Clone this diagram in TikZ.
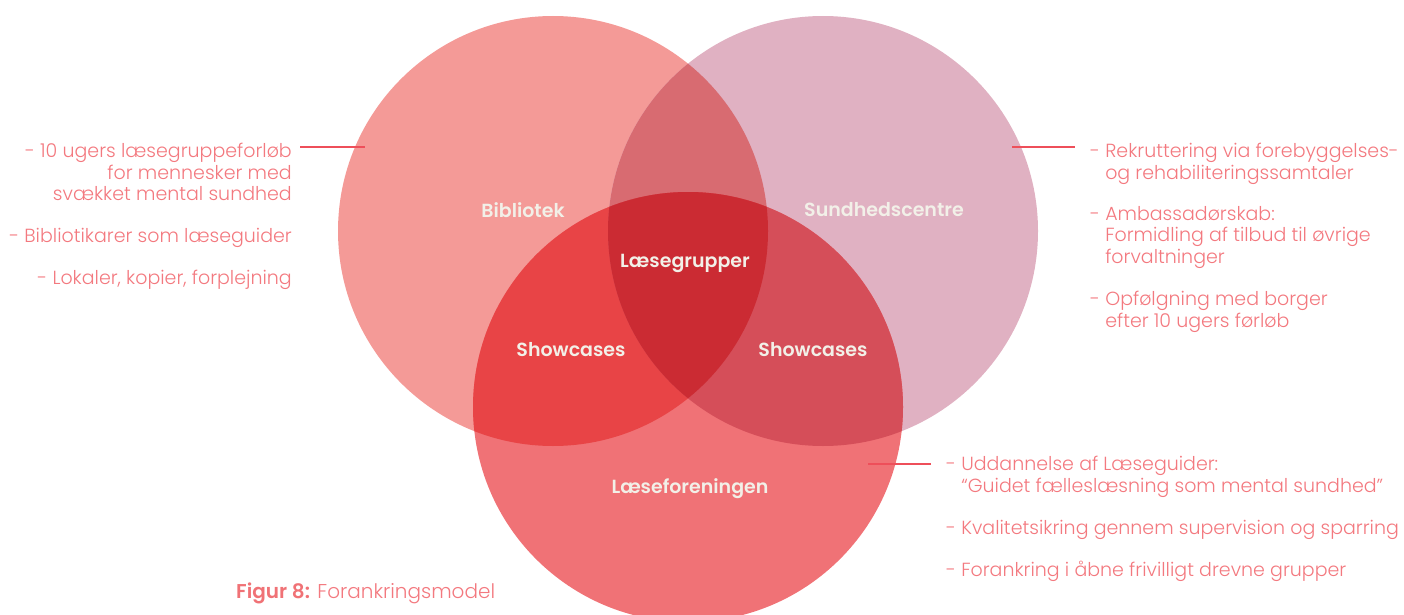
\documentclass[tikz,border=0pt]{standalone}
\usepackage{fontspec}
\setmainfont{Poppins}[UprightFont=* Light, BoldFont=* SemiBold]
\usetikzlibrary{positioning, calc}

\definecolor{libcol}{HTML}{F49A97}
\definecolor{sundcol}{HTML}{E0B1C2}
\definecolor{foreningcol}{HTML}{F07276}
\definecolor{libsund}{HTML}{D86B71}
\definecolor{libforening}{HTML}{E84446}
\definecolor{sundforening}{HTML}{D54E59}
\definecolor{allthree}{HTML}{CB2B33}
\definecolor{txtcol}{HTML}{F3797F}
\definecolor{pincol}{HTML}{EE4F5A}
\definecolor{lblcol}{HTML}{F2F0E8}

\begin{document}
\begin{tikzpicture}[
  x=1pt, y=-1pt,
  side/.style={inner sep=0pt, text=txtcol, font=\fontsize{19}{21.5}\selectfont},
  lbl/.style={inner sep=0pt, text=lblcol, font=\fontsize{19}{22}\selectfont\bfseries},
  pin/.style={draw=pincol, line width=2pt}
]
\useasboundingbox (0,0) rectangle (1404,615);

% -------------------------
% CIRCLES
% -------------------------
\coordinate (libC) at (553,231);
\coordinate (sundC) at (823,231);
\coordinate (forC) at (688,407);

\fill[libcol] (libC) circle[radius=215pt];
\fill[sundcol] (sundC) circle[radius=215pt];
\fill[foreningcol] (forC) circle[radius=215pt];

% overlaps
\begin{scope}
  \clip (libC) circle[radius=215pt];
  \fill[libsund] (sundC) circle[radius=215pt];
  \fill[libforening] (forC) circle[radius=215pt];
\end{scope}
\begin{scope}
  \clip (sundC) circle[radius=215pt];
  \fill[sundforening] (forC) circle[radius=215pt];
\end{scope}
\begin{scope}
  \clip (libC) circle[radius=215pt];
  \clip (sundC) circle[radius=215pt];
  \fill[allthree] (forC) circle[radius=215pt];
\end{scope}

% -------------------------
% LABELS
% -------------------------
\node[lbl] (bibl) at (523,210) {Bibliotek};
\node[lbl] (sundl) at (884,210) {Sundhedscentre};
\node[lbl] (grupl) at (685,263) {Læsegrupper};
\node[lbl] (showl) at (571,350) {Showcases};
\node[lbl] (showr) at (813,350) {Showcases};
\node[lbl] (forl) at (690,489) {Læseforeningen};

% -------------------------
% LEFT TEXT (BIBLIOTEK)
% -------------------------
\node[side, anchor=north east, align=right] (bibA) at (292,143)
  {- 10 ugers læsegruppeforløb\\for mennesker med\\svækket mental sundhed};
\node[side, anchor=north east, align=right] (bibB) at (292,228) {- Bibliotikarer som læseguider};
\node[side, anchor=north east, align=right] (bibC) at (292,270) {- Lokaler, kopier, forplejning};
\coordinate (bibpin) at (365,147);
\draw[pin] ([xshift=8pt,yshift=-4pt]bibA.north east) -- (bibpin);

% -------------------------
% RIGHT TEXT (SUNDHEDSCENTRE)
% -------------------------
\node[side, anchor=north west, align=left] (sundA) at (1090,143)
  {- Rekruttering via forebyggelses-\\\phantom{- }og rehabiliteringssamtaler};
\node[side, anchor=north west, align=left] (sundB) at (1090,206)
  {- Ambassadørskab:\\\phantom{- }Formidling af tilbud til øvrige\\\phantom{- }forvaltninger};
\node[side, anchor=north west, align=left] (sundC2) at (1090,291)
  {- Opfølgning med borger\\\phantom{- }efter 10 ugers førløb};
\coordinate (sundpin) at (1012,147);
\draw[pin] (sundpin) -- ([xshift=-15pt,yshift=-4pt]sundA.north west);

% -------------------------
% BOTTOM TEXT (LÆSEFORENINGEN)
% -------------------------
\node[side, anchor=north west, align=left] (forA) at (946,456)
  {- Uddannelse af Læseguider:\\\phantom{- }“Guidet fælleslæsning som mental sundhed”};
\node[side, anchor=north west, align=left] (forB) at (946,520) {- Kvalitetsikring gennem supervision og sparring};
\node[side, anchor=north west, align=left] (forC2) at (946,561) {- Forankring i åbne frivilligt drevne grupper};
\coordinate (forpin) at (868,464);
\draw[pin] (forpin) -- ([xshift=-15pt,yshift=-8pt]forA.north west);

% caption
\node[side, anchor=base west, font=\fontsize{20}{22}\selectfont] (caption) at (236,598)
  {\textcolor{foreningcol}{\bfseries Figur 8:} Forankringsmodel};

\end{tikzpicture}
\end{document}
